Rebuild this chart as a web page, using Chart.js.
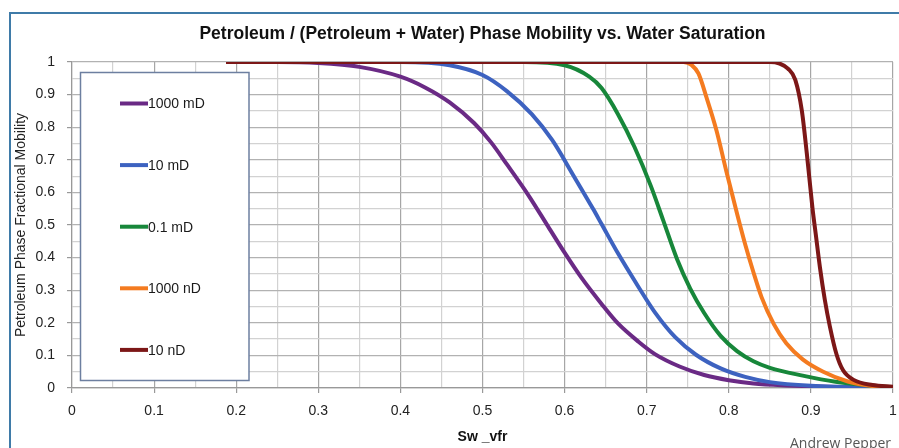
<!DOCTYPE html>
<html>
<head>
<meta charset="utf-8">
<script src="https://cdn.jsdelivr.net/npm/chart.js@4.4.0/dist/chart.umd.min.js"></script>
<style>
  html, body { margin: 0; padding: 0; background: #fff; }
  #wrap { position: relative; width: 899px; height: 448px; overflow: hidden; }
  #frame { position: absolute; left: 9px; top: 12px; width: 900px; height: 450px;
           border-top: 2px solid #3f7ba8; border-left: 2px solid #3f7ba8; }
  #chart { position: absolute; left: 0; top: 0; }
  #credit { position: absolute; left: 790px; top: 433px; font: 14px 'Open Sans', sans-serif; color: #555; }
</style>
</head>
<body>
<div id="wrap">
  <div id="frame"></div>
  <canvas id="chart" width="899" height="448"></canvas>
  <div id="credit">Andrew Pepper</div>
</div>
<script>
const chartTitle = 'Petroleum / (Petroleum + Water) Phase Mobility vs. Water Saturation';
const xTitle = 'Sw _vfr';
const yTitle = 'Petroleum Phase Fractional Mobility';

const seriesLabels = ['1000 mD', '10 mD', '0.1 mD', '1000 nD', '10 nD'];
const seriesColors = ['#6a2a85', '#3d62c0', '#17873a', '#f47b20', '#7c1717'];

// water saturation / mobility pairs per permeability
const sw1000mD = [0.19, 0.25, 0.30, 0.35, 0.40, 0.43, 0.46, 0.49, 0.51, 0.53, 0.555, 0.58, 0.60, 0.62, 0.645, 0.665, 0.69, 0.71, 0.74, 0.77, 0.80, 0.83, 0.87, 0.92, 1.0];
const mob1000mD = [1, 1, 0.997, 0.985, 0.955, 0.922, 0.876, 0.812, 0.755, 0.685, 0.595, 0.495, 0.415, 0.34, 0.258, 0.198, 0.142, 0.104, 0.066, 0.04, 0.024, 0.014, 0.008, 0.004, 0.001];

const sw10mD = [0.19, 0.40, 0.46, 0.50, 0.53, 0.56, 0.585, 0.61, 0.635, 0.645, 0.665, 0.69, 0.71, 0.735, 0.76, 0.79, 0.82, 0.85, 0.90, 1.0];
const mob10mD = [1, 1, 0.99, 0.96, 0.91, 0.84, 0.76, 0.655, 0.548, 0.503, 0.413, 0.31, 0.232, 0.155, 0.102, 0.06, 0.034, 0.018, 0.007, 0.001];

const sw01mD = [0.19, 0.55, 0.60, 0.63, 0.645, 0.665, 0.685, 0.705, 0.72, 0.737, 0.753, 0.77, 0.79, 0.81, 0.83, 0.85, 0.89, 0.93, 0.97, 1.0];
const mob01mD = [1, 1, 0.99, 0.955, 0.92, 0.84, 0.74, 0.62, 0.515, 0.395, 0.305, 0.23, 0.16, 0.113, 0.082, 0.062, 0.038, 0.019, 0.008, 0.002];

const sw1000nD = [0.19, 0.745, 0.755, 0.763, 0.773, 0.785, 0.797, 0.81, 0.82, 0.83, 0.84, 0.855, 0.87, 0.89, 0.915, 0.945, 0.975, 1.0];
const mob1000nD = [1, 1, 0.99, 0.965, 0.89, 0.79, 0.665, 0.535, 0.44, 0.355, 0.278, 0.195, 0.137, 0.088, 0.05, 0.02, 0.006, 0.002];

const sw10nD = [0.1876, 0.85, 0.862, 0.872, 0.881, 0.889, 0.895, 0.902, 0.906, 0.911, 0.917, 0.923, 0.931, 0.939, 0.952, 0.975, 1.0];
const mob10nD = [1, 1, 0.995, 0.98, 0.945, 0.85, 0.72, 0.55, 0.47, 0.37, 0.27, 0.19, 0.105, 0.055, 0.025, 0.009, 0.004];

const swSets = [sw1000mD, sw10mD, sw01mD, sw1000nD, sw10nD];
const mobSets = [mob1000mD, mob10mD, mob01mD, mob1000nD, mob10nD];

const fontFamily = "'Liberation Sans', Arial, sans-serif";
const isMajor = v => Math.round(v * 20) % 2 === 0;
const tickLabel = v => isMajor(v) ? String(Math.round(v * 10) / 10) : '';

const datasets = seriesLabels.map((label, i) => ({
  label: label,
  data: swSets[i].map((x, j) => ({ x: x, y: mobSets[i][j] })),
  borderColor: seriesColors[i],
  backgroundColor: seriesColors[i],
  borderWidth: 4,
  pointRadius: 0,
  cubicInterpolationMode: 'monotone',
  fill: false,
  order: seriesLabels.length - i   // 10 nD ends up on top
}));

// legend box drawn inside the plot, left side
const legendBox = {
  id: 'legendBox',
  afterDraw(chart) {
    const ctx = chart.ctx;
    ctx.save();
    ctx.fillStyle = '#fff';
    ctx.fillRect(80.5, 72.5, 168.5, 308);
    ctx.strokeStyle = '#6d7fa0';
    ctx.lineWidth = 1.5;
    ctx.strokeRect(80.5, 72.5, 168.5, 308);
    ctx.font = '14px ' + fontFamily;
    ctx.textBaseline = 'middle';
    chart.data.datasets.forEach((ds, i) => {
      const yy = 103.5 + i * 61.6;
      ctx.strokeStyle = ds.borderColor;
      ctx.lineWidth = 4;
      ctx.beginPath();
      ctx.moveTo(120, yy);
      ctx.lineTo(148, yy);
      ctx.stroke();
      ctx.fillStyle = '#1a1a1a';
      ctx.fillText(ds.label, 148, yy + 1);
    });
    ctx.restore();
  }
};

const gridOpts = (major, minor) => ({
  color: c => isMajor(c.tick.value) ? major : minor,
  tickColor: c => isMajor(c.tick.value) ? '#999' : 'rgba(0,0,0,0)',
  lineWidth: 1.2,
  tickLength: 5
});

new Chart(document.getElementById('chart').getContext('2d'), {
  type: 'line',
  data: { datasets: datasets },
  options: {
    responsive: false,
    animation: false,
    layout: { padding: { left: 0, right: 6, top: 0, bottom: 0 } },
    plugins: {
      legend: { display: false },
      tooltip: { enabled: false },
      title: {
        display: true,
        fullSize: false,
        text: chartTitle,
        color: '#111',
        font: { family: fontFamily, size: 17.5, weight: 'bold' },
        padding: { top: 24, bottom: 17 }
      }
    },
    scales: {
      x: {
        type: 'linear',
        min: 0,
        max: 1,
        ticks: { stepSize: 0.05, autoSkip: false, maxRotation: 0, padding: 10, color: '#222',
                 font: { family: fontFamily, size: 14 }, callback: tickLabel },
        grid: gridOpts('#a6a6a6', '#d2d2d2'),
        border: { color: '#999', width: 1.2 },
        title: { display: true, text: xTitle, color: '#111',
                 font: { family: fontFamily, size: 14, weight: 'bold' }, padding: { top: 0, bottom: 2 } },
        afterFit: s => { s.height = 60; s.paddingLeft = 0; s.paddingRight = 0; }
      },
      y: {
        type: 'linear',
        min: 0,
        max: 1,
        ticks: { stepSize: 0.05, autoSkip: false, padding: 12, color: '#222',
                 font: { family: fontFamily, size: 14 }, callback: tickLabel },
        grid: gridOpts('#b2b2b2', '#d2d2d2'),
        border: { color: '#999', width: 1.2 },
        title: { display: true, text: yTitle, color: '#222',
                 font: { family: fontFamily, size: 14 }, padding: { top: 13, bottom: 0 } },
        afterFit: s => { s.width = 72; }
      }
    }
  },
  plugins: [legendBox]
});
</script>
</body>
</html>
